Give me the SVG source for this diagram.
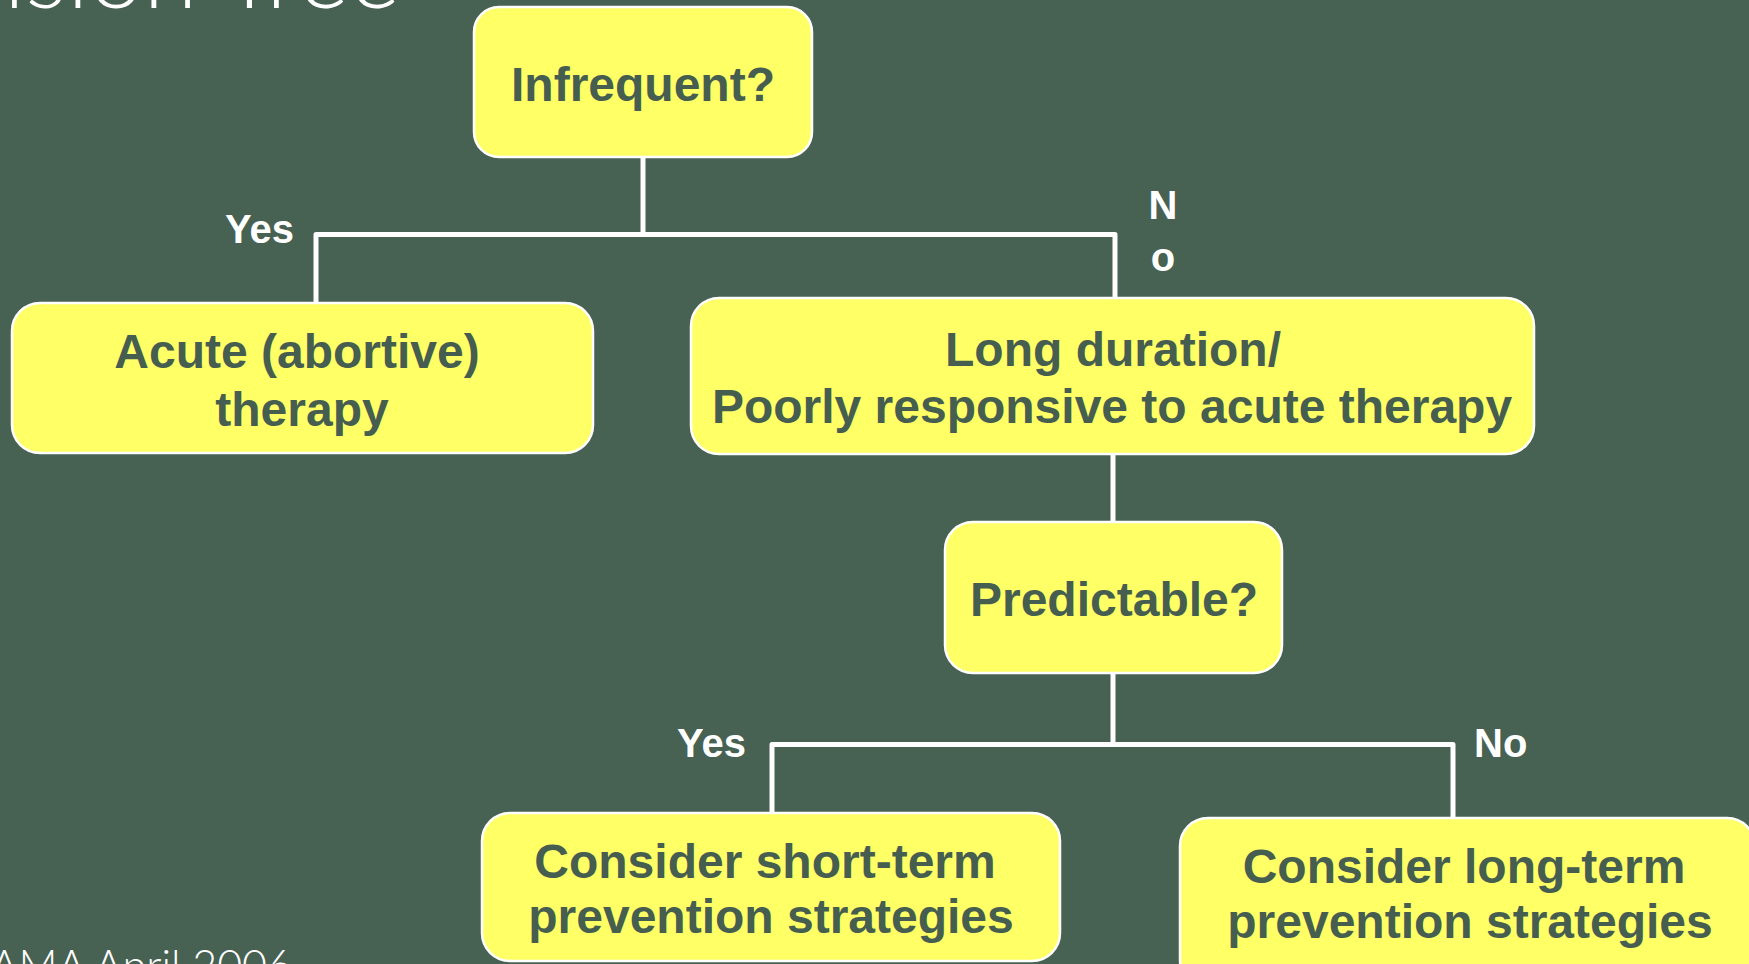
<svg xmlns="http://www.w3.org/2000/svg" width="1749" height="964" viewBox="0 0 1749 964">
<style>
.bg{fill:#476152}
.box{fill:#FFFF66;stroke:#FFFFFF;stroke-width:2.5}
.t{font-family:"Liberation Sans",Arial,sans-serif;font-weight:bold;font-size:48px;fill:#465E50;text-anchor:middle}
.lbl{font-family:"Liberation Sans",Arial,sans-serif;font-weight:bold;font-size:40px;fill:#FFFFFF}
.thin{font-family:Lato,"Open Sans","Liberation Sans",sans-serif;font-weight:300;fill:#FFFFFF;text-anchor:end}
.con{fill:none;stroke:#FFFFFF;stroke-width:5;stroke-linejoin:round}
</style>
<rect class="bg" x="0" y="0" width="1749" height="964"/>
<text class="thin" x="400" y="8" font-size="98">Decision Tree</text>
<text class="thin" x="292" y="981" font-size="43">JAMA April 2006</text>
<g id="connectors">
<path class="con" d="M643,157 V234.5"/>
<path class="con" d="M316,303 V234.5 H1115 V298"/>
<path class="con" d="M1113,454 V522"/>
<path class="con" d="M1113,673 V744.5"/>
<path class="con" d="M772,813 V744.5 H1453 V818"/>
</g>
<g id="labels">
<text class="lbl" x="225" y="243">Yes</text>
<text class="lbl" x="1163" y="219" text-anchor="middle">N</text>
<text class="lbl" x="1163" y="271" text-anchor="middle">o</text>
<text class="lbl" x="677" y="757">Yes</text>
<text class="lbl" x="1474" y="757">No</text>
</g>
<g id="node-infrequent">
<rect class="box" x="474" y="7" width="338" height="150" rx="25"/>
<text class="t" x="643" y="101">Infrequent?</text>
</g>
<g id="node-acute">
<rect class="box" x="12" y="303" width="581" height="150" rx="28"/>
<text class="t" x="297" y="368" font-size="50">Acute (abortive)</text>
<text class="t" x="302" y="426" font-size="50">therapy</text>
</g>
<g id="node-long">
<rect class="box" x="691" y="298" width="843" height="156" rx="28"/>
<text class="t" x="1113" y="366">Long duration/</text>
<text class="t" x="1112" y="423">Poorly responsive to acute therapy</text>
</g>
<g id="node-predictable">
<rect class="box" x="945" y="522" width="337" height="151" rx="28"/>
<text class="t" x="1114" y="616">Predictable?</text>
</g>
<g id="node-short">
<rect class="box" x="482" y="813" width="578" height="148" rx="28"/>
<text class="t" x="765" y="878">Consider short-term</text>
<text class="t" x="771" y="933">prevention strategies</text>
</g>
<g id="node-longterm">
<rect class="box" x="1180" y="818" width="575" height="170" rx="28"/>
<text class="t" x="1464" y="883">Consider long-term</text>
<text class="t" x="1470" y="938">prevention strategies</text>
</g>
</svg>
